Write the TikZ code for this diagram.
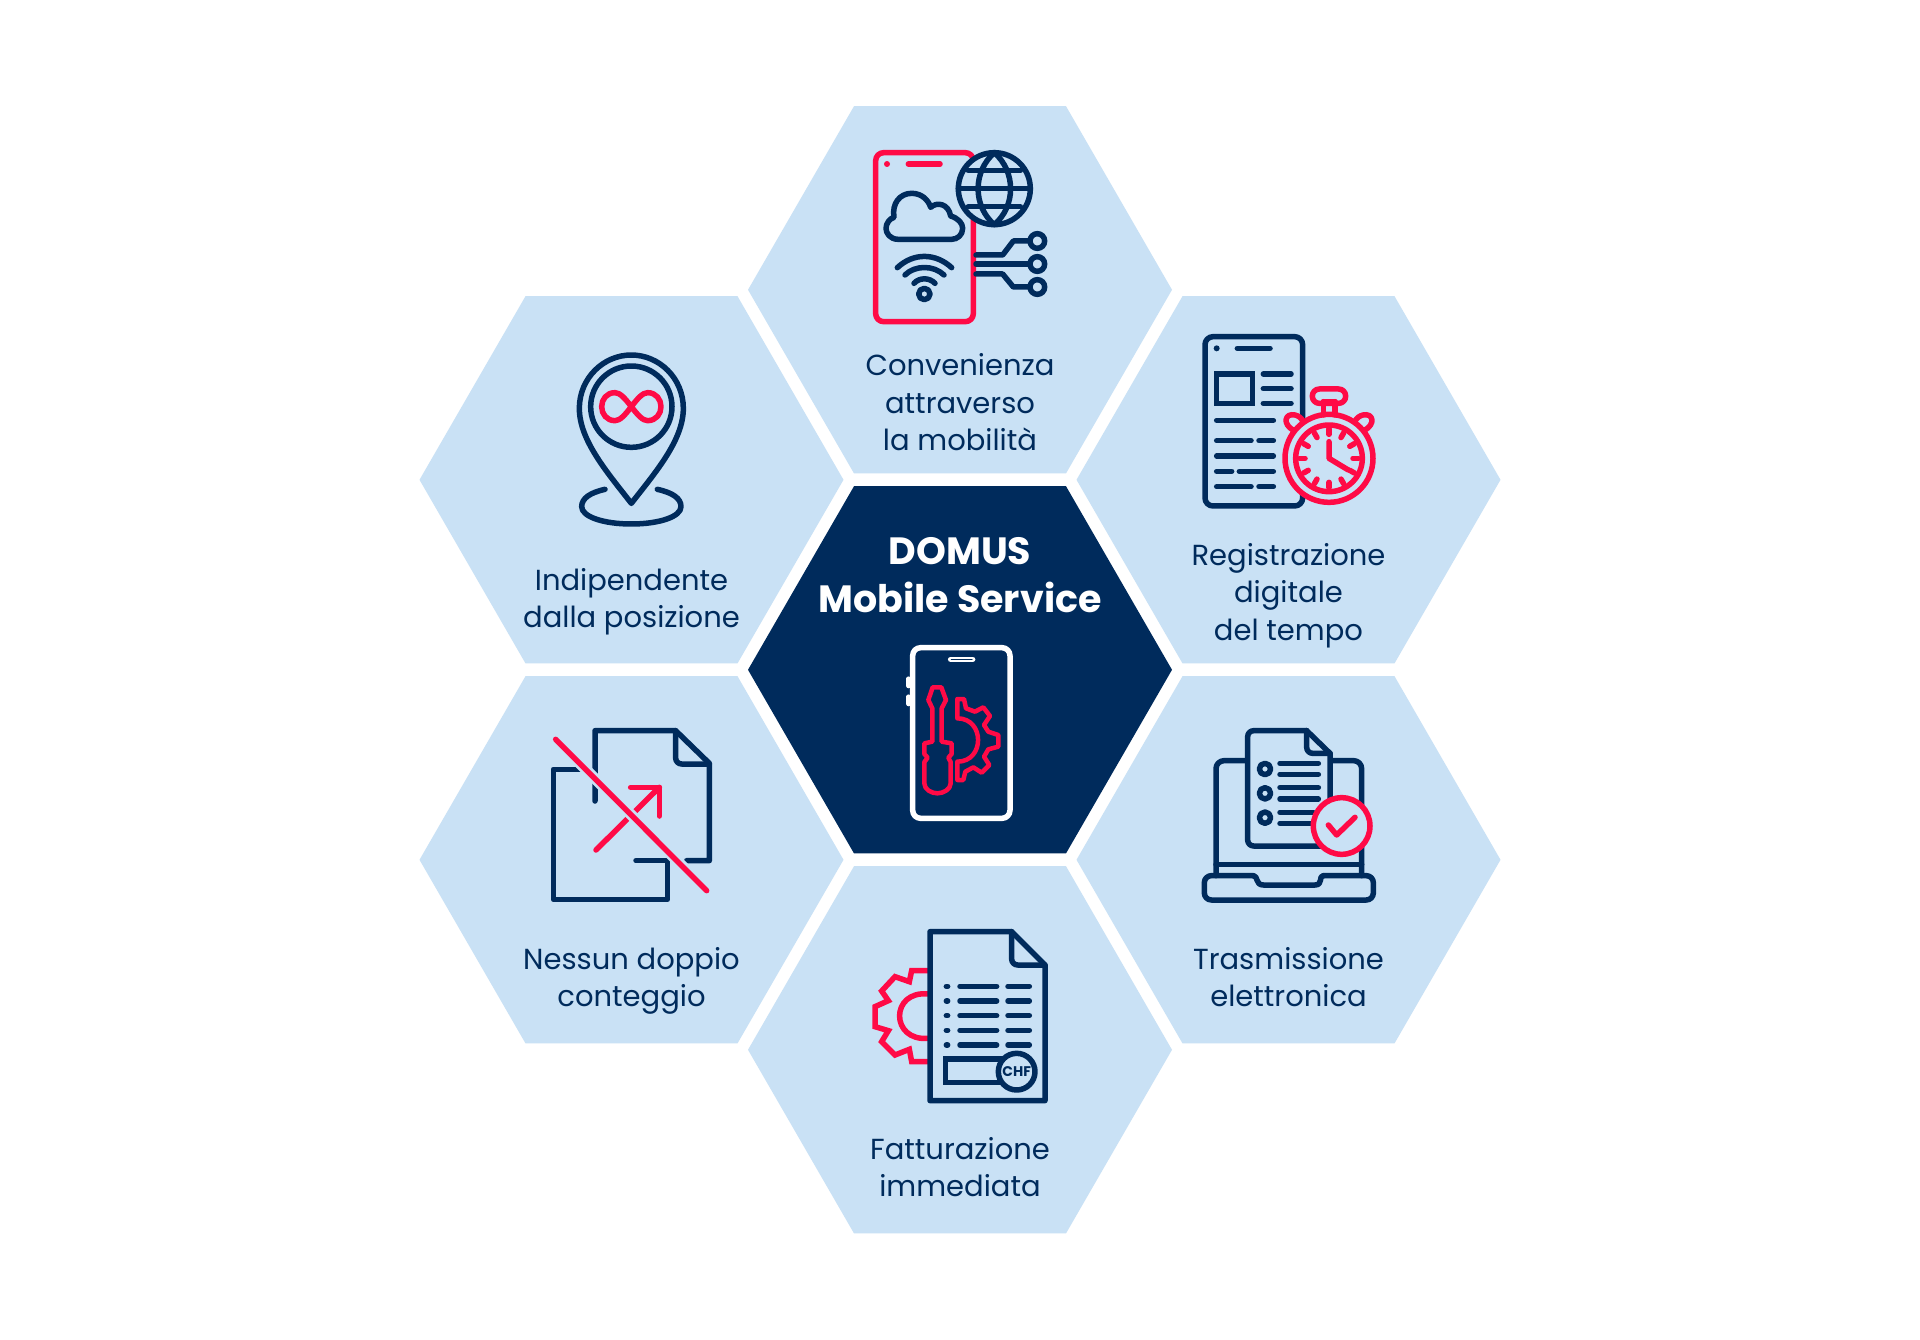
\documentclass[tikz,border=0pt]{standalone}
\usepackage{fontspec}
\setmainfont{Poppins}
\usetikzlibrary{shapes.geometric}
\definecolor{hexbg}{HTML}{C9E1F5}
\definecolor{navy}{HTML}{002B5C}
\definecolor{rouge}{HTML}{FF0A46}
\tikzset{
  hexa/.style={regular polygon,regular polygon sides=6,minimum size=424pt,inner sep=0pt,outer sep=0pt,fill=hexbg},
  hexc/.style={hexa,fill=navy},
  lab/.style={align=center,inner sep=0pt,text=navy,font=\fontsize{29}{37.4}\selectfont},
  labw/.style={align=center,inner sep=0pt,text=white,font=\fontsize{38}{48}\selectfont\bfseries},
  nv/.style={draw=navy,line width=5.5pt,line cap=round,line join=round},
  rd/.style={draw=rouge,line width=5.5pt,line cap=round,line join=round},
  wh/.style={draw=white,line width=5.5pt,line cap=round,line join=round},
  icon/.style={shift={#1},x=0.33333pt,y=-0.33333pt},
}
\begin{document}
\begin{tikzpicture}[x=1pt,y=-1pt]
\useasboundingbox (0,0) rectangle (1920,1340);
\fill[white] (0,0) rectangle (1920,1340);
\node[hexc] (hc) at (960,669.8) {};
\node[hexa] (h1) at (960,289.8) {};
\node[hexa] (h2) at (1288.5,479.8) {};
\node[hexa] (h3) at (1288.5,859.8) {};
\node[hexa] (h4) at (960,1049.8) {};
\node[hexa] (h5) at (631.5,859.8) {};
\node[hexa] (h6) at (631.5,479.8) {};
\node[labw] (tc) at (960,578.4) {\strut DOMUS\\\strut Mobile Service};
\node[lab] (t1) at (960,405.7) {\strut Convenienza\\\strut attraverso\\\strut la mobilità};
\node[lab] (t2) at (1288.5,595.2) {\strut Registrazione\\\strut digitale\\\strut del tempo};
\node[lab] (t3) at (1288.5,980.5) {\strut Trasmissione\\\strut elettronica};
\node[lab] (t4) at (960,1170.5) {\strut Fatturazione\\\strut immediata};
\node[lab] (t5) at (631.5,980.5) {\strut Nessun doppio\\\strut conteggio};
\node[lab] (t6) at (631.5,601.3) {\strut Indipendente\\\strut dalla posizione};

% icon 1: phone, cloud, globe
\begin{scope}[icon={(840,130)}]
\draw[rd,rounded corners=8pt] (107,68) rectangle (400,575);
\fill[rouge] (141,102) circle (9);
\draw[rd] (205,102) -- (300,102);
\draw[nv,fill=hexbg] (463,176) circle (108);
\draw[nv] (463,68) .. controls (398,125) and (398,228) .. (463,284) .. controls (528,228) and (528,125) .. (463,68);
\draw[nv] (355,176) -- (571,176) (385,122) -- (541,122) (385,230) -- (541,230);
\draw[nv,fill=hexbg] (175,328) .. controls (150,328) and (138,310) .. (138,295) .. controls (138,280) and (150,265) .. (162,262) .. controls (155,220) and (180,190) .. (215,190) .. controls (245,190) and (265,210) .. (272,232) .. controls (290,215) and (325,220) .. (332,258) .. controls (355,265) and (368,280) .. (368,295) .. controls (368,315) and (352,328) .. (335,328) -- cycle;
\draw[nv] (172,413) .. controls (220,368) and (286,368) .. (335,413);
\draw[nv] (195,435) .. controls (225,405) and (281,405) .. (312,435);
\draw[nv] (222,460) .. controls (238,442) and (268,442) .. (285,460);
\draw[nv] (253,492) circle (17);
\draw[nv] (408,375) -- (488,375) -- (520,333) -- (570,333);
\draw[nv] (408,402) -- (570,402);
\draw[nv] (408,432) -- (488,432) -- (520,471) -- (570,471);
\draw[nv] (592,333) circle (22) (592,402) circle (22) (592,471) circle (22);
\end{scope}

% icon 2: phone and stopwatch
\begin{scope}[icon={(1180,320)}]
\draw[nv,rounded corners=8pt] (75,50) rectangle (368,558);
\fill[navy] (110,85) circle (9);
\draw[nv] (172,85) -- (270,85);
\draw[nv,line cap=butt,line join=miter] (110,162) rectangle (218,250);
\draw[nv] (250,162) -- (333,162) (250,206) -- (333,206) (250,250) -- (333,250);
\draw[nv] (110,301) -- (280,301);
\draw[nv] (110,362) -- (213,362) (237,362) -- (280,362);
\draw[nv] (110,408) -- (280,408);
\draw[nv] (110,454) -- (155,454) (178,454) -- (280,454);
\draw[nv] (110,500) -- (213,500) (237,500) -- (280,500);
\draw[rd] (342,332) .. controls (305,312) and (315,278) .. (345,285) .. controls (355,287) and (365,295) .. (368,302);
\draw[rd] (552,332) .. controls (589,312) and (579,278) .. (549,285) .. controls (539,287) and (529,295) .. (526,302);
\draw[rd,fill=hexbg] (447,415) circle (132);
\draw[rd] (447,415) circle (100);
\draw[rd,rounded corners=7pt] (397,207) rectangle (497,250);
\draw[rd] (430,245) -- (430,285) (465,245) -- (465,285);
\draw[rd] (430,245) -- (465,245);
\foreach \a in {0,30,...,330} {\draw[rd] ([shift={(\a:72)}]447,415) -- ([shift={(\a:88)}]447,415);}
\draw[rd] (447,365) -- (447,415) -- (505,450);
\end{scope}

% icon 3: location pin
\begin{scope}[icon={(540,340)}]
\draw[nv] (195,448) .. controls (150,458) and (125,475) .. (125,500) .. controls (125,530) and (190,552) .. (274,552) .. controls (358,552) and (423,530) .. (423,500) .. controls (423,475) and (398,458) .. (352,448);
\draw[nv] (274,490) .. controls (200,395) and (118,300) .. (118,205) .. controls (118,115) and (190,45) .. (274,45) .. controls (358,45) and (430,115) .. (430,205) .. controls (430,300) and (348,395) .. (274,490) -- cycle;
\draw[nv] (274,200) circle (122);
\draw[rd] (274,200) .. controls (255,175) and (240,158) .. (225,158) .. controls (200,158) and (185,178) .. (185,200) .. controls (185,222) and (200,242) .. (225,242) .. controls (240,242) and (255,225) .. (274,200) .. controls (293,175) and (308,158) .. (323,158) .. controls (348,158) and (363,178) .. (363,200) .. controls (363,222) and (348,242) .. (323,242) .. controls (308,242) and (293,225) .. (274,200) -- cycle;
\end{scope}

% icon 4: no double count
\begin{scope}[icon={(530,710)}]
\draw[nv] (195,273) -- (195,62) -- (437,62) -- (538,160) -- (538,452) -- (470,452);
\draw[nv,rounded corners=6pt] (437,62) -- (437,162) -- (538,162);
\draw[nv] (150,178) -- (70,178) -- (70,568) -- (412,568) -- (412,452) -- (318,452);
\draw[rd] (198,420) -- (388,232);
\draw[rd] (302,232) -- (388,232) -- (388,318);
\draw[hexbg,line width=11pt] (77,88) -- (500,511);
\draw[rd] (77,88) -- (530,542);
\end{scope}

% icon 5: central phone with tools
\begin{scope}[icon={(860,630)}]
\draw[wh,rounded corners=8pt] (158,53) rectangle (450,565);
\draw[white,line width=5.5pt,line cap=round] (272,88) -- (338,88);
\draw[navy,line width=1.2pt,line cap=round] (274,88) -- (336,88);
\draw[white,line width=4.5pt,line cap=round] (146,146) -- (146,168) (146,200) -- (146,222);
\draw[rouge,line width=4.5pt,line join=round] (218,172) -- (244,172) -- (258,210) -- (245,235) -- (245,335) -- (275,340) -- (275,372) -- (265,383) -- (272,396) -- (272,460) .. controls (272,478) and (250,490) .. (232,490) .. controls (214,490) and (193,478) .. (193,460) -- (193,396) -- (203,383) -- (193,372) -- (193,340) -- (217,335) -- (217,235) -- (205,210) -- cycle;
\draw[rouge,line width=4.5pt,line join=round] (292,207) -- (312,207) -- (318,235) -- (345,245) -- (370,232) -- (390,258) -- (372,285) -- (385,305) -- (415,315) -- (415,350) -- (385,358) -- (372,380) -- (388,405) -- (365,428) -- (340,412) -- (316,425) -- (310,450) -- (292,450) -- (292,395) .. controls (375,395) and (375,265) .. (292,265) -- cycle;
\end{scope}

% icon 6: laptop and document
\begin{scope}[icon={(1190,710)}]
\draw[nv,rounded corners=8pt] (170,152) -- (78,152) -- (78,497);
\draw[nv,rounded corners=8pt] (425,152) -- (515,152) -- (515,497);
\draw[nv] (78,463) -- (515,463);
\draw[nv,rounded corners=7pt] (190,497) -- (43,497) -- (43,570) -- (550,570) -- (550,497) -- (400,497);
\draw[nv] (190,497) .. controls (205,497) and (195,525) .. (220,525) -- (375,525) .. controls (400,525) and (385,497) .. (400,497);
\draw[nv,fill=hexbg,rounded corners=6pt] (350,62) -- (173,62) -- (173,408) -- (420,408) -- (420,130);
\draw[nv] (350,62) -- (420,130);
\draw[nv,rounded corners=6pt] (350,62) -- (350,130) -- (420,130);
\draw[nv] (225,177) circle (17) (225,250) circle (17) (225,323) circle (17);
\draw[nv] (270,160) -- (385,160) (270,193) -- (385,193) (270,233) -- (385,233) (270,267) -- (385,267) (270,307) -- (370,307) (270,340) -- (370,340);
\draw[rd,fill=hexbg] (455,348) circle (85);
\draw[rd] (415,345) -- (440,375) -- (495,322);
\end{scope}

% icon 7: invoice
\begin{scope}[icon={(860,910)}]
\draw[rd,line join=miter] (205,182) -- (155,182) -- (148,215) -- (105,200) -- (65,243) -- (85,272) -- (45,290) -- (45,350) -- (85,362) -- (65,395) -- (105,435) -- (148,418) -- (155,455) -- (205,455);
\draw[rd] (205,252) .. controls (90,240) and (90,395) .. (205,385);
\draw[nv,fill=hexbg] (210,65) -- (455,65) -- (555,165) -- (555,572) -- (210,572) -- cycle;
\draw[nv,rounded corners=6pt] (455,65) -- (455,165) -- (555,165);
\foreach \y in {229,273,317,361,405} {
  \draw[nv] (259,\y) -- (263,\y) (300,\y) -- (410,\y) (444,\y) -- (508,\y);
}
\draw[nv,line join=miter] (257,447) rectangle (425,517);
\draw[nv,fill=hexbg] (470,485) circle (55);
\node[text=navy,inner sep=0pt,font=\fontsize{14}{14}\selectfont\bfseries] (chf) at (470,485) {CHF};
\end{scope}
\end{tikzpicture}
\end{document}
